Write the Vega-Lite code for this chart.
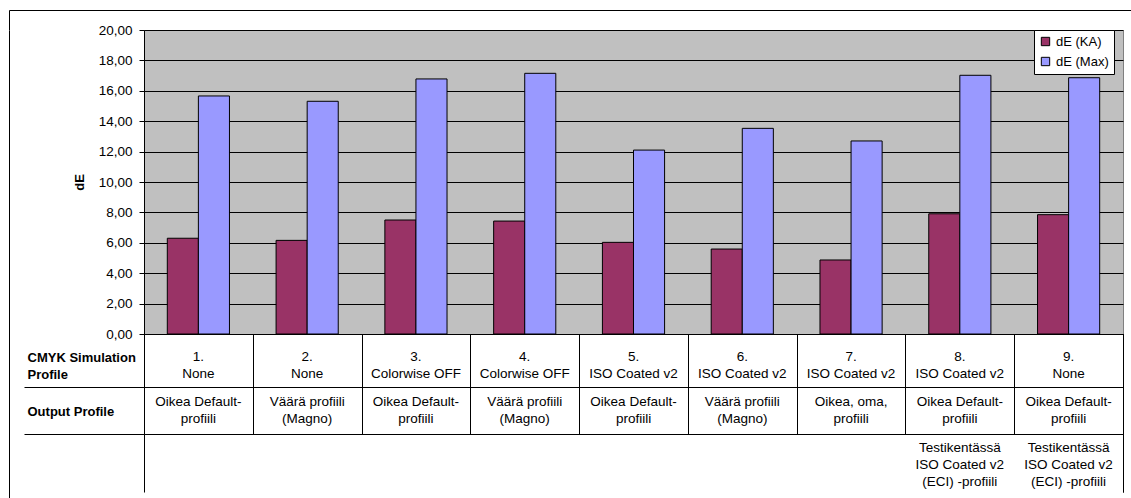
{
  "$schema": "https://vega.github.io/schema/vega-lite/v6.json",
  "padding": {"left": 8, "top": 9, "right": 0, "bottom": 0},
  "background": "#ffffff",
  "config": {
    "font": "Liberation Sans",
    "axis": {"labelFont": "Liberation Sans", "labelColor": "#000", "titleFont": "Liberation Sans", "titleColor": "#000"},
    "legend": {"labelFont": "Liberation Sans"}
  },
  "datasets": {
    "bars": [
      {"cat": "1", "series": "dE (KA)", "value": 6.30},
      {"cat": "2", "series": "dE (KA)", "value": 6.16},
      {"cat": "3", "series": "dE (KA)", "value": 7.50},
      {"cat": "4", "series": "dE (KA)", "value": 7.43},
      {"cat": "5", "series": "dE (KA)", "value": 6.03},
      {"cat": "6", "series": "dE (KA)", "value": 5.59},
      {"cat": "7", "series": "dE (KA)", "value": 4.87},
      {"cat": "8", "series": "dE (KA)", "value": 7.91},
      {"cat": "9", "series": "dE (KA)", "value": 7.85},
      {"cat": "1", "series": "dE (Max)", "value": 15.66},
      {"cat": "2", "series": "dE (Max)", "value": 15.31},
      {"cat": "3", "series": "dE (Max)", "value": 16.78},
      {"cat": "4", "series": "dE (Max)", "value": 17.15},
      {"cat": "5", "series": "dE (Max)", "value": 12.10},
      {"cat": "6", "series": "dE (Max)", "value": 13.53},
      {"cat": "7", "series": "dE (Max)", "value": 12.70},
      {"cat": "8", "series": "dE (Max)", "value": 17.02},
      {"cat": "9", "series": "dE (Max)", "value": 16.86}
    ],
    "row1": [
      {"cat": "1", "row": "CMYK Simulation Profile", "txt": "1.\nNone"},
      {"cat": "2", "row": "CMYK Simulation Profile", "txt": "2.\nNone"},
      {"cat": "3", "row": "CMYK Simulation Profile", "txt": "3.\nColorwise OFF"},
      {"cat": "4", "row": "CMYK Simulation Profile", "txt": "4.\nColorwise OFF"},
      {"cat": "5", "row": "CMYK Simulation Profile", "txt": "5.\nISO Coated v2"},
      {"cat": "6", "row": "CMYK Simulation Profile", "txt": "6.\nISO Coated v2"},
      {"cat": "7", "row": "CMYK Simulation Profile", "txt": "7.\nISO Coated v2"},
      {"cat": "8", "row": "CMYK Simulation Profile", "txt": "8.\nISO Coated v2"},
      {"cat": "9", "row": "CMYK Simulation Profile", "txt": "9.\nNone"}
    ],
    "row2": [
      {"cat": "1", "row": "Output Profile", "txt": "Oikea Default-\nprofiili"},
      {"cat": "2", "row": "Output Profile", "txt": "Väärä profiili\n(Magno)"},
      {"cat": "3", "row": "Output Profile", "txt": "Oikea Default-\nprofiili"},
      {"cat": "4", "row": "Output Profile", "txt": "Väärä profiili\n(Magno)"},
      {"cat": "5", "row": "Output Profile", "txt": "Oikea Default-\nprofiili"},
      {"cat": "6", "row": "Output Profile", "txt": "Väärä profiili\n(Magno)"},
      {"cat": "7", "row": "Output Profile", "txt": "Oikea, oma,\nprofiili"},
      {"cat": "8", "row": "Output Profile", "txt": "Oikea Default-\nprofiili"},
      {"cat": "9", "row": "Output Profile", "txt": "Oikea Default-\nprofiili"}
    ],
    "row3": [
      {"cat": "8", "row": "note", "txt": "Testikentässä\nISO Coated v2\n(ECI) -profiili"},
      {"cat": "9", "row": "note", "txt": "Testikentässä\nISO Coated v2\n(ECI) -profiili"}
    ]
  },
  "bounds": "flush",
  "spacing": 0,
  "vconcat": [
    {
      "width": 1123,
      "height": 20,
      "data": {"values": []},
      "mark": "point",
      "view": {"stroke": "#000", "strokeWidth": 1, "strokeDash": [1123, 1143, 20, 0], "fill": null}
    },
    {
      "bounds": "flush",
      "spacing": 115,
      "hconcat": [
        {
          "width": 20,
          "height": 469,
          "data": {"values": []},
          "mark": "point",
          "view": {"stroke": "#000", "strokeWidth": 1, "strokeDash": [0, 509, 469, 0], "fill": null}
        },
        {
          "bounds": "flush",
          "spacing": 0,
          "vconcat": [
            {
              "width": 979,
              "height": 304,
              "data": {"name": "bars"},
              "view": {"fill": "#C0C0C0", "stroke": "#808080"},
              "mark": {"type": "bar", "stroke": "#000", "strokeWidth": 1},
              "encoding": {
                "x": {
                  "field": "cat", "type": "nominal",
                  "scale": {"domain": ["1","2","3","4","5","6","7","8","9"], "paddingInner": 0, "paddingOuter": 0},
                  "axis": {"title": null, "labels": false, "ticks": false, "domain": true, "domainColor": "#000", "grid": false}
                },
                "xOffset": {
                  "field": "series", "type": "nominal",
                  "scale": {"domain": ["dE (KA)", "dE (Max)"], "paddingInner": 0, "paddingOuter": 0.75}
                },
                "y": {
                  "field": "value", "type": "quantitative",
                  "scale": {"domain": [0, 20], "nice": false},
                  "axis": {
                    "title": "dE", "titleFontSize": 13, "titleFontWeight": "bold", "titlePadding": 12,
                    "values": [0,2,4,6,8,10,12,14,16,18,20],
                    "labelExpr": "replace(format(datum.value, '.2f'), '.', ',')",
                    "labelFontSize": 13.5, "labelPadding": 7,
                    "tickSize": 5, "tickColor": "#000", "domainColor": "#000",
                    "grid": true, "gridColor": "#000", "gridOpacity": 1
                  }
                },
                "color": {
                  "field": "series", "type": "nominal",
                  "scale": {"domain": ["dE (KA)", "dE (Max)"], "range": ["#993366", "#9999FF"]},
                  "legend": {
                    "title": null, "orient": "none", "legendX": 1025, "legendY": 20,
                    "fillColor": "#ffffff", "strokeColor": "#000", "padding": 5,
                    "symbolType": "square", "symbolSize": 70, "symbolStrokeColor": "#000", "symbolStrokeWidth": 1,
                    "labelFontSize": 13, "labelColor": "#000", "rowPadding": 6, "labelOffset": 4
                  }
                }
              }
            },
            {
              "width": 979,
              "height": 53,
              "data": {"name": "row1"},
              "view": {"stroke": "#000", "fill": null},
              "mark": {"type": "text", "lineBreak": "\n", "fontSize": 13.5, "lineHeight": 17, "baseline": "middle", "dy": -3.5, "color": "#000"},
              "encoding": {
                "x": {
                  "field": "cat", "type": "nominal",
                  "scale": {"domain": ["1","2","3","4","5","6","7","8","9"], "paddingInner": 0, "paddingOuter": 0},
                  "axis": {"title": null, "labels": false, "ticks": false, "domain": false, "grid": true, "tickBand": "extent", "gridColor": "#000", "gridOpacity": 1}
                },
                "y": {
                  "field": "row", "type": "nominal",
                  "axis": {
                    "title": null, "domain": false, "ticks": true, "tickSize": 120, "tickOpacity": 0,
                    "labelAlign": "left", "labelPadding": -3, "labelOffset": -3, "labelFontSize": 13, "labelFontWeight": "bold",
                    "labelLineHeight": 17,
                    "labelExpr": "datum.label == 'CMYK Simulation Profile' ? ['CMYK Simulation', 'Profile'] : datum.label"
                  }
                },
                "text": {"field": "txt"}
              }
            },
            {
              "width": 979,
              "height": 47,
              "data": {"name": "row2"},
              "view": {"stroke": "#000", "fill": null},
              "mark": {"type": "text", "lineBreak": "\n", "fontSize": 13.5, "lineHeight": 17.5, "baseline": "middle", "dy": -9, "color": "#000"},
              "encoding": {
                "x": {
                  "field": "cat", "type": "nominal",
                  "scale": {"domain": ["1","2","3","4","5","6","7","8","9"], "paddingInner": 0, "paddingOuter": 0},
                  "axis": {"title": null, "labels": false, "ticks": false, "domain": false, "grid": true, "tickBand": "extent", "gridColor": "#000", "gridOpacity": 1}
                },
                "y": {
                  "field": "row", "type": "nominal",
                  "axis": {
                    "title": null, "domain": false, "ticks": true, "tickSize": 120, "tickColor": "#000", "tickBand": "extent",
                    "labelAlign": "left", "labelPadding": -3, "labelOffset": 1, "labelFontSize": 13, "labelFontWeight": "bold"
                  }
                },
                "text": {"field": "txt"}
              }
            },
            {
              "width": 979,
              "height": 58,
              "data": {"name": "row3"},
              "view": {"stroke": "#000", "strokeDash": [0, 979, 58, 979, 58, 0], "fill": null},
              "mark": {"type": "text", "lineBreak": "\n", "fontSize": 13.5, "lineHeight": 17, "baseline": "middle", "dy": -15, "color": "#000"},
              "encoding": {
                "x": {
                  "field": "cat", "type": "nominal",
                  "scale": {"domain": ["1","2","3","4","5","6","7","8","9"], "paddingInner": 0, "paddingOuter": 0},
                  "axis": {
                    "title": null, "labels": false, "ticks": false, "domain": false, "grid": true, "tickBand": "extent", "gridOpacity": 1,
                    "gridColor": {"condition": {"test": "datum.value === '9'", "value": "#000"}, "value": "transparent"}
                  }
                },
                "y": {
                  "field": "row", "type": "nominal",
                  "axis": {
                    "title": null, "domain": false, "labels": false, "ticks": false
                  }
                },
                "text": {"field": "txt"}
              }
            }
          ]
        }
      ]
    }
  ]
}
